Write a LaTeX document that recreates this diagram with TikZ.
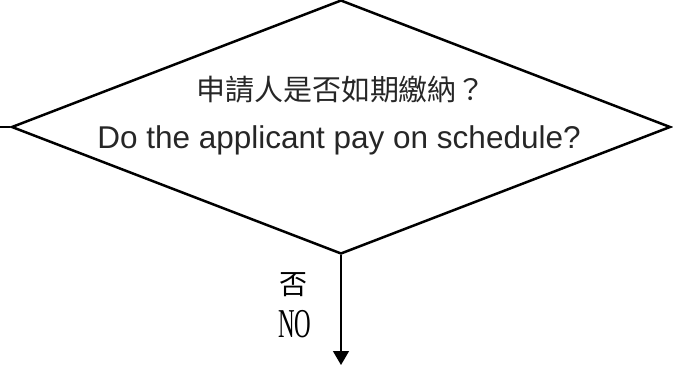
\documentclass[tikz,border=0pt]{standalone}
\usepackage{fontspec}
\setmainfont{Liberation Sans}
\newfontfamily\cjkfont{Noto Sans CJK TC}
\newfontfamily\narrowfont[FakeStretch=0.56]{Liberation Serif}
\usetikzlibrary{shapes.geometric,arrows.meta}

\begin{document}
\begin{tikzpicture}[x=1pt,y=-1pt,
	decision/.style={diamond,draw,line width=2.5pt,minimum width=659pt,minimum height=254pt,inner sep=0pt},
	flow/.style={line width=1.4pt,-{Triangle[width=16pt,length=14pt]}},
	label/.style={inner sep=0pt,anchor=base}]
 	\useasboundingbox (0,0) rectangle (673,365);
 	\node[decision] (pay) at (341,127) {};
 	\node[label,text=black!85] (zh) at (341,100) {\cjkfont\fontsize{29}{29}\selectfont 申請人是否如期繳納？};
 	\node[label,text=black!85] (en) at (339,148) {\fontsize{31.5}{31.5}\selectfont Do the applicant pay on schedule?};
 	\coordinate (in) at (0,127);
 	\coordinate (out) at (341,365);
 	\draw[line width=1.2pt] (in) -- (pay.west);
 	\draw[flow] (pay.south) -- (out);
 	\node[label] (no zh) at (293,294) {\cjkfont\fontsize{28}{28}\selectfont 否};
 	\node[label] (no en) at (295,337) {\narrowfont\fontsize{41}{41}\selectfont NO};
\end{tikzpicture}
\end{document}
